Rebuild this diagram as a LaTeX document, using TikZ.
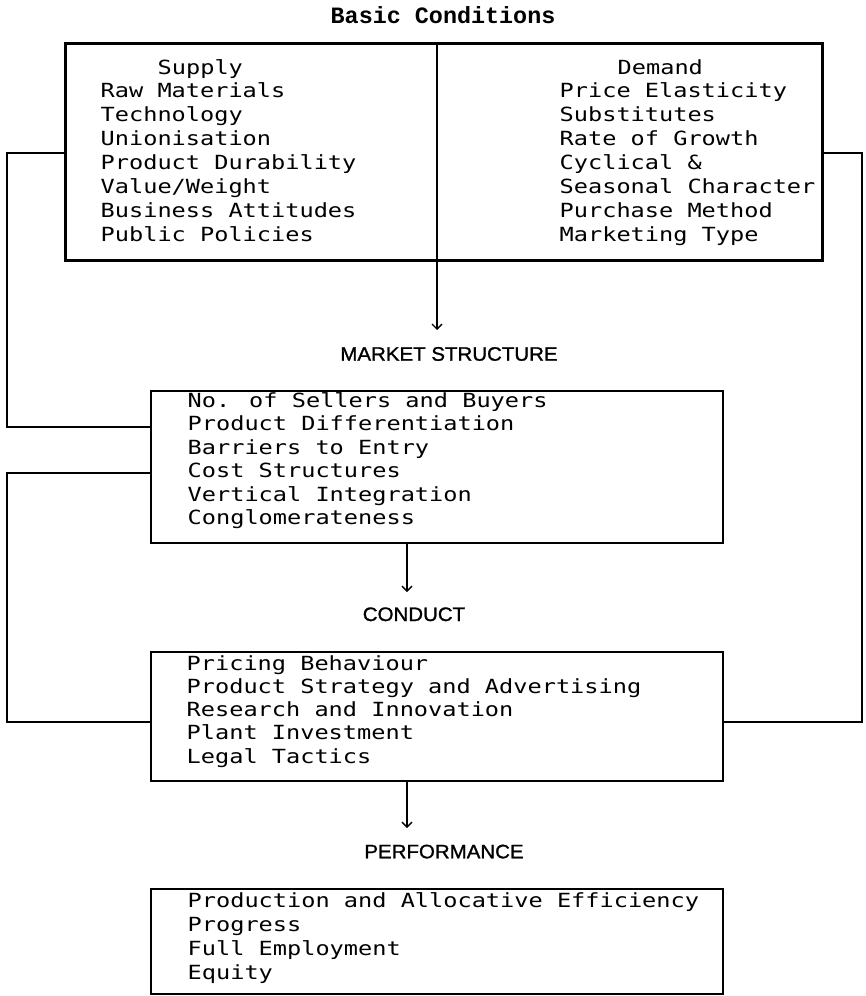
\documentclass[tikz,border=0pt]{standalone}
\usepackage{fontspec}
\usetikzlibrary{arrows.meta}
% dot-matrix style monospace for the list entries
\newfontfamily\dotmono[FakeStretch=1.21]{DejaVu Sans Mono}
% narrow, slightly heavy sans for the stage headings
\newfontfamily\headsans[FakeStretch=1.05,FakeBold=1.2]{Liberation Sans}
% typewriter face for the title
\newfontfamily\titlemono{Liberation Mono}

\begin{document}
\begin{tikzpicture}[x=1pt,y=-1pt,
  line width=1.4pt,
  framebox/.style={draw, rectangle, inner sep=0pt},
  item/.style={font=\dotmono\fontsize{19.5}{24}\selectfont, anchor=base west, inner sep=0pt},
  heading/.style={font=\headsans\fontsize{19.5}{24}\selectfont, anchor=base, inner sep=0pt},
  arr/.style={-{Straight Barb[length=5pt,width=10pt]}},
]
\useasboundingbox (0,0) rectangle (866,996);

% title
\node[font=\titlemono\bfseries\fontsize{23.4}{28}\selectfont, anchor=base west, inner sep=0pt]
  (title) at (330,23.3) {Basic Conditions};

% basic conditions box
\node[framebox, line width=3pt, minimum width=757pt, minimum height=217pt] (bc) at (443.5,151.5) {};
\node[item] (supply) at (157,74) {Supply};
\node[item] (demand) at (617,74) {Demand};
\foreach \t [count=\i] in {Raw Materials,Technology,Unionisation,Product Durability,Value/Weight,Business Attitudes,Public Policies}
  \node[item] (sup\i) at (100,{97.3+24*(\i-1)}) {\t};
\foreach \t [count=\i] in {Price Elasticity,Substitutes,Rate of Growth,Cyclical \&,Seasonal Character,Purchase Method,Marketing Type}
  \node[item] (dem\i) at (559,{97.3+24*(\i-1)}) {\t};

% market structure
\node[heading] (mshead) at (449,360.7) {MARKET STRUCTURE};
\node[framebox, minimum width=572pt, minimum height=152pt] (ms) at (437,467) {};
\foreach \t [count=\i] in {No. of Sellers and Buyers,Product Differentiation,Barriers to Entry,Cost Structures,Vertical Integration,Conglomerateness}
  \node[item] (ms\i) at (187,{407.3+23.5*(\i-1)}) {\t};

% conduct
\node[heading] (cdhead) at (414,621) {CONDUCT};
\node[framebox, minimum width=572pt, minimum height=129pt] (cd) at (437,716.5) {};
\foreach \t [count=\i] in {Pricing Behaviour,Product Strategy and Advertising,Research and Innovation,Plant Investment,Legal Tactics}
  \node[item] (cd\i) at (186,{670+23.3*(\i-1)}) {\t};

% performance
\node[heading] (pfhead) at (444,858.3) {PERFORMANCE};
\node[framebox, minimum width=572pt, minimum height=105pt] (pf) at (437,941.5) {};
\foreach \t [count=\i] in {Production and Allocative Efficiency,Progress,Full Employment,Equity}
  \node[item] (pf\i) at (187,{907.3+24*(\i-1)}) {\t};

% divider and downward arrows
\coordinate (a1) at (437,330);
\coordinate (a2) at (407,592);
\coordinate (a3) at (407,828);
\draw (bc.north -| a1) -- (bc.south -| a1);
\draw[arr] (bc.south -| a1) -- (a1);
\draw[arr] (ms.south -| a2) -- (a2);
\draw[arr] (cd.south -| a3) -- (a3);

% feedback loops
\coordinate (fl1) at (7,153);
\coordinate (fl2) at (7,427);
\coordinate (fl3) at (7,473);
\coordinate (fl4) at (7,722);
\coordinate (fr1) at (862,153);
\coordinate (fr2) at (862,722);
\draw (fl1 -| bc.west) -- (fl1) -- (fl2) -- (fl2 -| ms.west);
\draw (fl3 -| ms.west) -- (fl3) -- (fl4) -- (fl4 -| cd.west);
\draw (fr1 -| bc.east) -- (fr1) -- (fr2) -- (fr2 -| cd.east);
\end{tikzpicture}
\end{document}
